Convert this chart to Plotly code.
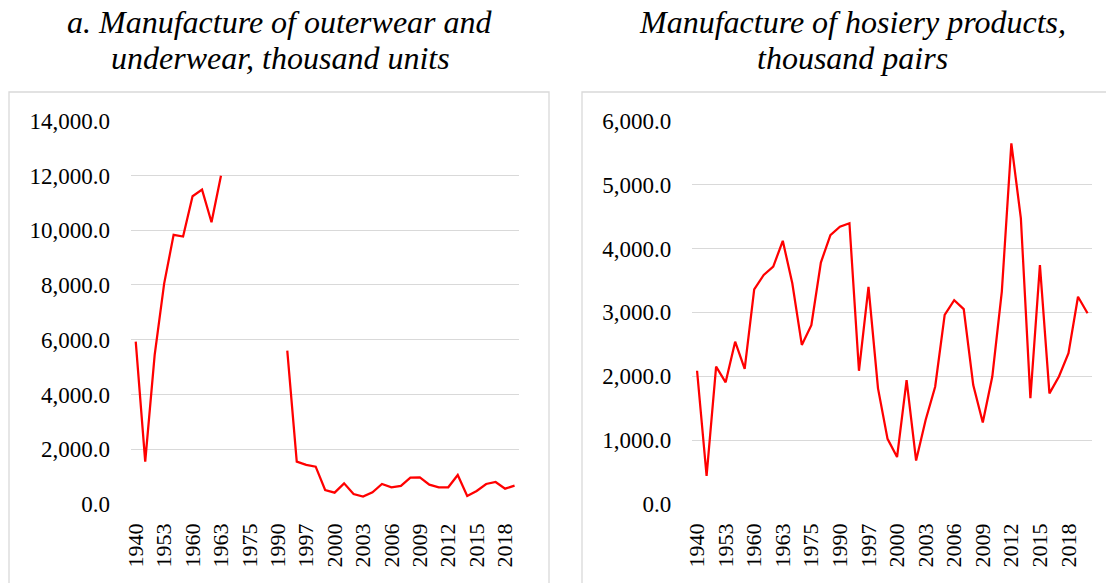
"""Two-panel line chart: outerwear/underwear and hosiery production."""

import plotly.graph_objects as go

W, H = 1114, 583
OFF = 8  # default body margin of the written html page

years_a = [
    "1940", "1945", "1950", "1953", "1955", "1958", "1960", "1961", "1962", "1963",
    "1965", "1970", "1975", "1980", "1985", "1990", "1995", "1996", "1997", "1998",
    "1999", "2000", "2001", "2002", "2003", "2004", "2005", "2006", "2007", "2008",
    "2009", "2010", "2011", "2012", "2013", "2014", "2015", "2016", "2017", "2018",
    "2019",
]
years_b = years_a + ["2020"]

outerwear = [
    5930, 1550, 5450, 8050, 9830, 9770, 11240, 11480, 10290, 11990,
    None, None, None, None, None, None, 5600, 1550, 1430, 1365,
    510, 415, 755, 365, 270, 430, 730, 610, 660, 960,
    975, 705, 610, 610, 1060, 290, 475, 730, 805, 560,
    670,
]
hosiery = [
    2086, 440, 2150, 1905, 2540, 2115, 3360, 3585, 3715, 4120,
    3455, 2490, 2800, 3780, 4210, 4340, 4395, 2085, 3400, 1810,
    1020, 735, 1940, 680, 1315, 1836, 2960, 3190, 3050, 1862,
    1275, 1995, 3325, 5645, 4470, 1655, 3740, 1732, 1995, 2360,
    3245, 2985,
]

title_a = ["a. Manufacture of outerwear and", "underwear, thousand units"]
title_b = ["Manufacture of hosiery products,", "thousand pairs"]

FONT = "Liberation Serif"
GRID = "#d9d9d9"


def px_x(x):
    return (x - OFF) / W


def px_y(y):
    return 1 - (y - OFF) / H


fig = go.Figure()
fig.add_trace(go.Scatter(x=years_a, y=outerwear, mode="lines", connectgaps=False,
                         line=dict(color="#ff0000", width=2.25), xaxis="x", yaxis="y"))
fig.add_trace(go.Scatter(x=years_b, y=hosiery, mode="lines",
                         line=dict(color="#ff0000", width=2.25), xaxis="x2", yaxis="y2"))

ydom = [px_y(504), px_y(120.7)]
xaxis_common = dict(type="category", tickangle=-90, showgrid=False, showline=False,
                    zeroline=False, ticks="", automargin=False,
                    tickfont=dict(family=FONT, size=22, color="#000"),
                    ticklabelstandoff=14)
yaxis_common = dict(showgrid=True, gridcolor=GRID, gridwidth=1.3, zeroline=False,
                    showline=False, ticks="", tickformat=",.1f", automargin=False,
                    tickfont=dict(family=FONT, size=23, color="#000"),
                    ticklabelstandoff=20)

fig.update_layout(
    width=W, height=H,
    margin=dict(l=0, r=0, t=0, b=0, autoexpand=False),
    paper_bgcolor="white", plot_bgcolor="white",
    showlegend=False,
    xaxis=dict(**xaxis_common, domain=[px_x(131), px_x(519.3)], anchor="y",
               range=[-0.5, len(years_a) - 0.5], tickvals=years_a[::3]),
    yaxis=dict(**yaxis_common, domain=ydom, anchor="x", range=[0, 14000], dtick=2000),
    xaxis2=dict(**xaxis_common, domain=[px_x(692.3), px_x(1092.3)], anchor="y2",
                range=[-0.5, len(years_b) - 0.5], tickvals=years_b[::3]),
    yaxis2=dict(**yaxis_common, domain=ydom, anchor="x2", range=[0, 6000], dtick=1000),
)

# chart-area borders
for x0, x1 in [(9, 549), (582, 1130)]:
    fig.add_shape(type="rect", xref="paper", yref="paper",
                  x0=px_x(x0), x1=px_x(x1), y0=px_y(92), y1=px_y(600),
                  line=dict(color=GRID, width=1.3), layer="below")

# two-line titles, one annotation per line
for lines, cx in [(title_a, 280), (title_b, 852)]:
    for text, cy in zip(lines, [22, 58]):
        fig.add_annotation(text=f"<i>{text}</i>", xref="paper", yref="paper",
                           x=px_x(cx), y=px_y(cy), xanchor="center", yanchor="middle",
                           showarrow=False, font=dict(family=FONT, size=32, color="#000"))

fig.write_html("out.html")
